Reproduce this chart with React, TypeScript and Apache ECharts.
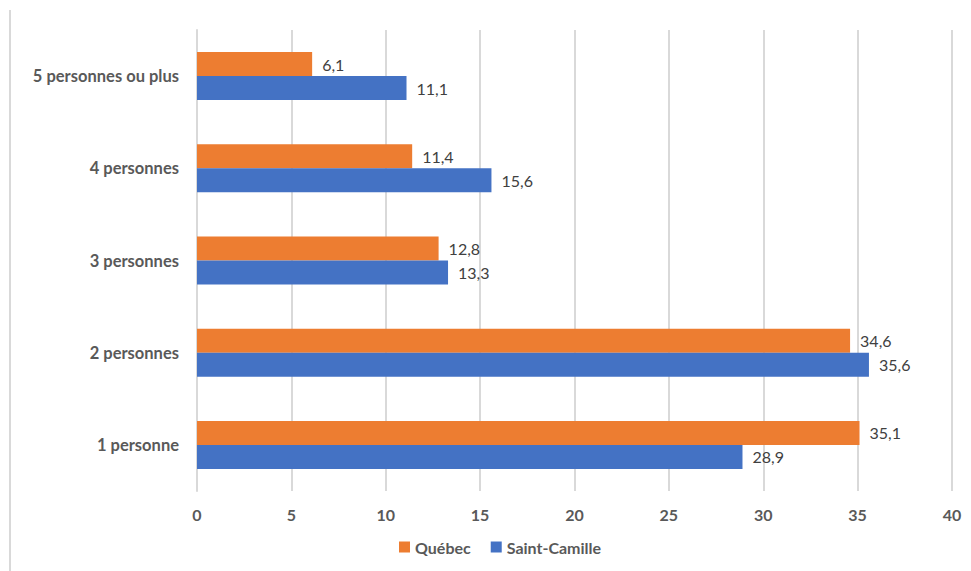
import React, { useEffect, useRef } from "react";
import * as echarts from "echarts";

const categories = ["1 personne", "2 personnes", "3 personnes", "4 personnes", "5 personnes ou plus"];
const quebec = [35.1, 34.6, 12.8, 11.4, 6.1];
const saintCamille = [28.9, 35.6, 13.3, 15.6, 11.1];
const seriesNames = ["Québec", "Saint-Camille"];

const fontFamily = "Lato, 'Open Sans', sans-serif";

export default function App() {
  const ref = useRef<HTMLDivElement>(null);
  useEffect(() => {
    if (!ref.current) return;
    const chart = echarts.init(ref.current, undefined, { renderer: "svg" });
    const fmt = (p: any) => String(p.value).replace(".", ",");
    const label = { show: true, position: "right", distance: 10, formatter: fmt, fontFamily, fontSize: 16, color: "#404040" };
    chart.setOption({
      animation: false,
      backgroundColor: "#ffffff",
      textStyle: { fontFamily },
      grid: { left: 197, right: 19, top: 30, height: 461, containLabel: false },
      legend: {
        data: [seriesNames[0], seriesNames[1]],
        bottom: 11,
        left: 394,
        itemWidth: 11,
        itemHeight: 11,
        itemGap: 20,
        icon: "rect",
        textStyle: { fontFamily, fontSize: 16, fontWeight: "bold", color: "#595959" },
      },
      graphic: [
        {
          type: "line",
          shape: { x1: 10, y1: 10, x2: 10, y2: 571 },
          style: { stroke: "#d9d9d9", lineWidth: 2 },
        },
      ],
      xAxis: {
        type: "value",
        min: 0,
        max: 40,
        interval: 5,
        axisLine: { show: false },
        axisTick: { show: false },
        axisLabel: { fontFamily, fontSize: 16, fontWeight: "bold", color: "#595959", margin: 15 },
        splitLine: { show: true, lineStyle: { color: "#d9d9d9", width: 2 } },
      },
      yAxis: {
        type: "category",
        data: categories,
        axisLine: { show: true, lineStyle: { color: "#d9d9d9", width: 2 } },
        axisTick: { show: false },
        axisLabel: { fontFamily, fontSize: 16.5, fontWeight: "bold", color: "#595959", margin: 18 },
      },
      series: [
        {
          name: seriesNames[0],
          type: "bar",
          data: quebec,
          barWidth: 24,
          barGap: "0%",
          itemStyle: { color: "#ED7D31" },
          label,
        },
        {
          name: seriesNames[1],
          type: "bar",
          data: saintCamille,
          barWidth: 24,
          barGap: "0%",
          itemStyle: { color: "#4472C4" },
          label,
        },
      ],
    });
    return () => chart.dispose();
  }, []);
  return <div ref={ref} style={{ position: "fixed", left: 0, top: 0, width: 971, height: 571 }} />;
}
